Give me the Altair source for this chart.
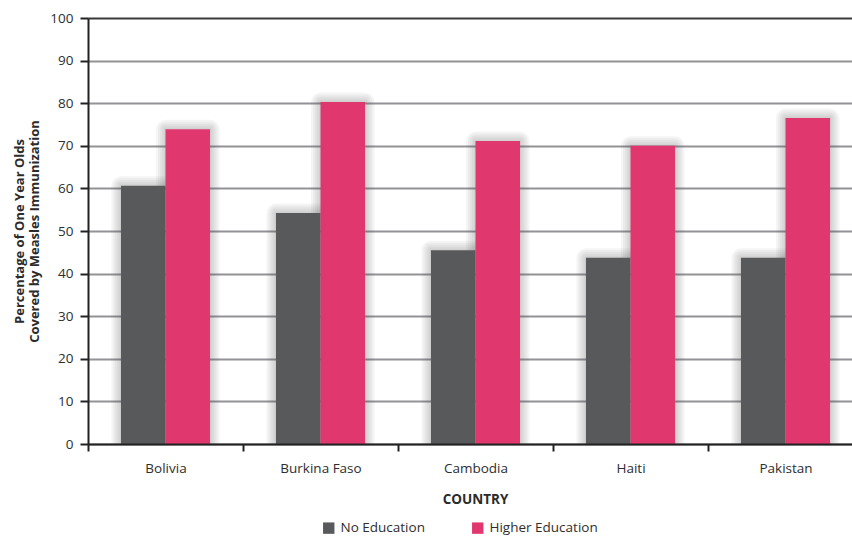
import altair as alt
import pandas as pd

countries = ["Bolivia", "Burkina Faso", "Cambodia", "Haiti", "Pakistan"]
groups = ["No Education", "Higher Education"]
no_education = [60.6, 54.2, 45.5, 43.7, 43.7]
higher_education = [73.9, 80.3, 71.1, 70.0, 76.5]
y_ticks = [0, 10, 20, 30, 40, 50, 60, 70, 80, 90, 100]
colors = ["#58595b", "#e0376f"]

rows = []
for c, a, b in zip(countries, no_education, higher_education):
    rows.append({"country": c, "group": groups[0], "value": a})
    rows.append({"country": c, "group": groups[1], "value": b})
df = pd.DataFrame(rows)

FONT = "Open Sans"

x_enc = alt.X(
    "country:N",
    sort=countries,
    scale=alt.Scale(domain=countries, range=[0, 775], paddingInner=0, paddingOuter=0),
    axis=alt.Axis(
        title="COUNTRY",
        titleFontWeight="bold",
        titleFontSize=13.5,
        titleColor="#2b2b2b",
        titlePadding=18,
        titleX=387,
        titleAnchor="middle",
        labelAngle=0,
        labelFontSize=13.5,
        labelColor="#2e2e2e",
        labelPadding=10,
        tickBand="extent",
        tickSize=7,
        tickWidth=2,
        tickColor="#222222",
        domainColor="#222222",
        domainWidth=2,
        grid=False,
        zindex=1,
    ),
)
xoff = alt.XOffset(
    "group:N",
    sort=groups,
    scale=alt.Scale(domain=groups, paddingOuter=0.74, paddingInner=0),
)
y_enc = alt.Y(
    "value:Q",
    scale=alt.Scale(domain=[0, 100], nice=False),
    axis=alt.Axis(
        values=y_ticks,
        title=["Percentage of One Year Olds", "Covered by Measles Immunization"],
        titleFontWeight="bold",
        titleFontSize=13,
        titleColor="#2b2b2b",
        titleLineHeight=15,
        titlePadding=8,
        labelFontSize=13.5,
        labelColor="#2e2e2e",
        labelPadding=7,
        tickSize=8,
        tickWidth=2,
        tickColor="#222222",
        domainColor="#222222",
        domainWidth=2,
        gridWidth=2,
        gridColor={"expr": "datum.value === 100 ? '#3a3a3a' : '#929297'"},
        zindex=0,
    ),
)

base = alt.Chart(df)

shadows = []
for sw in [3, 7, 11, 15, 19]:
    shadows.append(
        base.mark_bar(
            fillOpacity=0,
            stroke="#55565a",
            strokeWidth=sw,
            strokeOpacity=0.06,
            strokeJoin="round",
            xOffset=5,
            yOffset=0,
            clip=True,
        ).encode(x=x_enc, xOffset=xoff, y=y_enc)
    )

bars = base.mark_bar().encode(
    x=x_enc,
    xOffset=xoff,
    y=y_enc,
    color=alt.Color(
        "group:N",
        sort=groups,
        scale=alt.Scale(domain=groups, range=colors),
        legend=alt.Legend(
            title=None,
            orient="none",
            legendX=234,
            legendY=503,
            direction="horizontal",
            symbolType="square",
            symbolSize=130,
            symbolStrokeWidth=0,
            symbolOpacity=1,
            labelFontSize=13.5,
            labelColor="#2e2e2e",
            labelOffset=5,
            columnPadding=46,
        ),
    ),
)

chart = (
    alt.layer(*shadows, bars)
    .properties(
        width=764,
        height=426,
        autosize=alt.AutoSizeParams(type="none"),
        padding={"left": 88, "top": 18, "right": 0, "bottom": 92},
    )
    .configure(font=FONT)
    .configure_view(stroke=None)
)

chart.save("out.html", embed_options={"renderer": "svg", "actions": False})
